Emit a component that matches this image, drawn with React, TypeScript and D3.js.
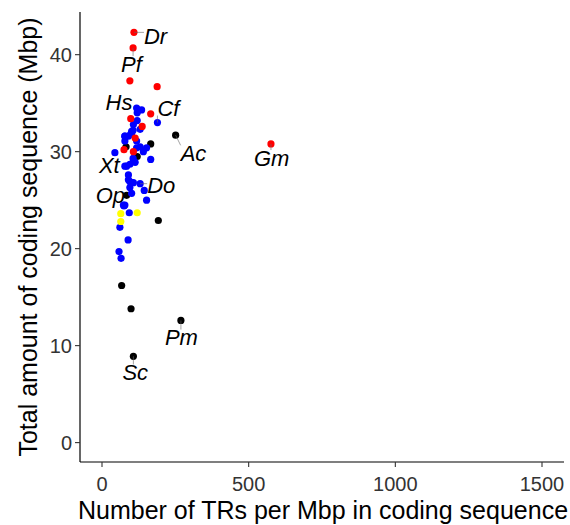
import React from "react";
import * as d3 from "d3";

// ---- data (x: TRs per Mbp in coding sequence, y: coding sequence Mbp) ----
const blueX = [118, 135, 120, 189, 107, 120, 101, 90, 118, 78, 130, 44, 141, 118, 166, 107, 95, 84, 113, 90, 107, 130, 95, 101, 144, 73, 75, 93, 152, 61, 89, 58, 65, 130, 78, 106, 78, 98, 152, 78, 101, 106, 90, 95, 78];
const blueY = [34.5, 34.3, 34.0, 33.0, 32.8, 33.2, 32.1, 31.6, 31.1, 31.1, 30.5, 29.9, 30.0, 30.4, 29.2, 29.0, 28.7, 28.5, 28.9, 27.1, 26.8, 26.7, 26.3, 25.7, 26.0, 24.5, 24.4, 23.7, 25.0, 22.2, 20.9, 19.7, 19.0, 32.3, 31.6, 32.2, 31.6, 31.8, 30.4, 28.5, 31.9, 29.3, 27.6, 26.9, 24.5];
const redX = [109, 106, 95, 188, 166, 98, 137, 113, 75, 107, 576];
const redY = [42.3, 40.7, 37.3, 36.7, 33.9, 33.4, 32.6, 31.4, 30.2, 30.0, 30.8];
const blackX = [251, 166, 120, 82, 84, 192, 67, 99, 269, 107];
const blackY = [31.7, 30.8, 29.5, 30.5, 25.5, 22.9, 16.2, 13.8, 12.6, 8.9];
const yellowX = [64, 120, 64];
const yellowY = [23.6, 23.7, 22.8];

// labelled species: name, point (data), label offset (px) of text anchor
const labelNames = ["Dr", "Pf", "Hs", "Cf", "Ac", "Gm", "Xt", "Do", "Op", "Pm", "Sc"];
const labelX = [109, 106, 118, 189, 251, 576, 44, 130, 84, 269, 107];
const labelY = [42.3, 40.7, 34.5, 33.0, 31.7, 30.8, 29.9, 26.7, 25.5, 12.6, 8.9];
const labelDx = [10, -12, -31, 0, 5, -17, -16, 7, -31, -16, -11];
const labelDy = [12, 24, 2, -7, 26, 22, 20, 9, 8, 25, 24];

const xTicks = [0, 500, 1000, 1500];
const yTicks = [0, 10, 20, 30, 40];

export default function App() {
  const W = 570, H = 525;
  const left = 80, right = 564, top = 12, bottom = 462;
  const x = d3.scaleLinear().domain([-75, 1575]).range([left, right]);
  const y = d3.scaleLinear().domain([-2.0, 44.4]).range([bottom, top]);
  const font = "Liberation Sans, Arial, Helvetica, sans-serif";
  const r = 3.6;
  const labFs = 22;

  const dots = (xs: number[], ys: number[], fill: string, key: string) =>
    xs.map((v, i) => (
      <circle key={key + i} cx={x(v)} cy={y(ys[i])} r={r} fill={fill} />
    ));

  return (
    <svg width={W} height={H} style={{ position: "absolute", left: 0, top: 0, background: "#fff" }} fontFamily={font}>
      {/* axes */}
      <line x1={left} x2={right} y1={bottom} y2={bottom} stroke="#000" strokeWidth={1.2} />
      <line x1={left} x2={left} y1={top} y2={bottom} stroke="#000" strokeWidth={1.2} />
      {xTicks.map((t) => (
        <g key={"xt" + t}>
          <line x1={x(t)} x2={x(t)} y1={bottom} y2={bottom + 5} stroke="#333" strokeWidth={1.1} />
          <text x={x(t)} y={bottom + 29} textAnchor="middle" fontSize={20} fill="#333">{t}</text>
        </g>
      ))}
      {yTicks.map((t) => (
        <g key={"yt" + t}>
          <line x1={left - 5} x2={left} y1={y(t)} y2={y(t)} stroke="#333" strokeWidth={1.1} />
          <text x={left - 8} y={y(t) + 7} textAnchor="end" fontSize={20} fill="#333">{t}</text>
        </g>
      ))}
      <text x={(left + right) / 2 + 1} y={519} textAnchor="middle" fontSize={25}>Number of TRs per Mbp in coding sequence</text>
      <text transform={`translate(37,${(top + bottom) / 2}) rotate(-90)`} textAnchor="middle" fontSize={25}>Total amount of coding sequence (Mbp)</text>

      {/* points */}
      {dots(blackX, blackY, "#000", "k")}
      {dots(blueX, blueY, "#0000ff", "b")}
      {dots(redX, redY, "#ff0000", "r")}
      {dots(yellowX, yellowY, "#ffff00", "yl")}

      {/* label segments (repel-style) */}
      {labelNames.map((n, i) => {
        const px = x(labelX[i]);
        const py = y(labelY[i]);
        const bx0 = px + labelDx[i];
        const bx1 = bx0 + n.length * 0.6 * labFs;
        const by1 = py + labelDy[i];
        const by0 = by1 - 0.72 * labFs;
        const ex = Math.max(bx0, Math.min(px, bx1));
        const ey = Math.max(by0, Math.min(py, by1));
        const d = Math.hypot(ex - px, ey - py);
        if (d < 5) return null;
        return <line key={"seg" + n} x1={px} y1={py} x2={ex} y2={ey} stroke="#666" strokeWidth={0.6} />;
      })}

      {/* labels */}
      {labelNames.map((n, i) => {
        const px = x(labelX[i]);
        const py = y(labelY[i]);
        return (
          <text key={"lab" + n} x={px + labelDx[i]} y={py + labelDy[i]} fontSize={labFs} fontStyle="italic" fill="#000">{n}</text>
        );
      })}
    </svg>
  );
}
